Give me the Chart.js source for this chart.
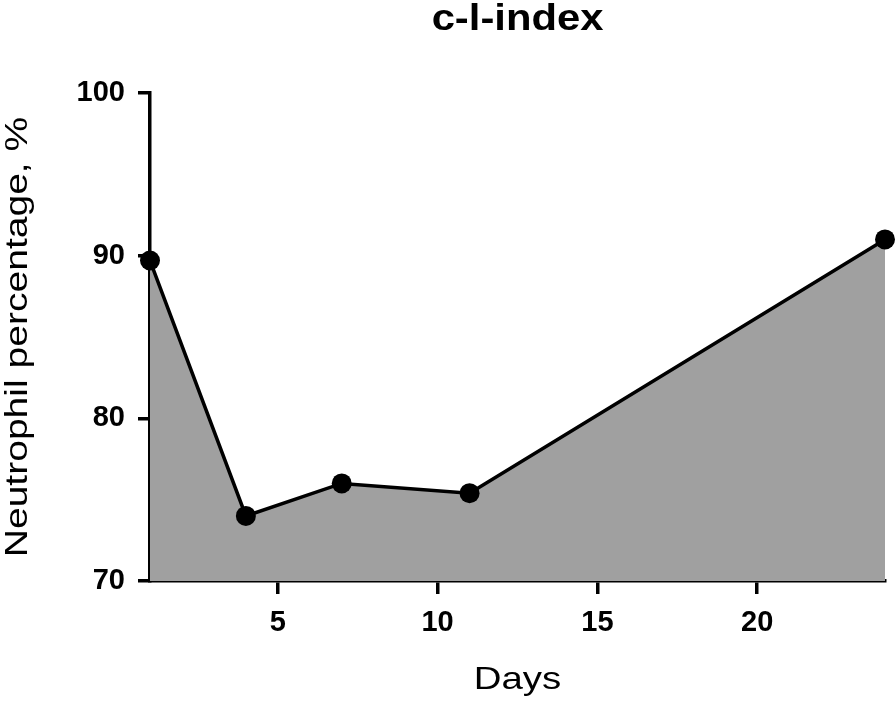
<!DOCTYPE html>
<html>
<head>
<meta charset="utf-8">
<script src="https://cdn.jsdelivr.net/npm/chart.js@4"></script>
<style>
  body { margin: 0; background: #fff; }
</style>
</head>
<body>
<canvas id="chart" width="896" height="701"></canvas>
<script>
const chartTitle = "c-l-index";
const xTitle = "Days";
const yTitle = "Neutrophil percentage, %";

const days = [1, 4, 7, 11, 24];
const neutrophils = [89.7, 74.0, 76.0, 75.4, 91.0];
const xTicks = [5, 10, 15, 20];
const yTicks = [70, 80, 90, 100];

const fontFamily = "'Liberation Sans', Arial, sans-serif";

// the reference text is a little wider than Arial, so stretch it along the line
function drawText(ctx, text, font, x, y, stretch, angle) {
    ctx.save();
    ctx.translate(x, y);
    ctx.rotate(angle);
    ctx.scale(stretch, 1);
    ctx.font = font;
    ctx.fillStyle = "#000";
    ctx.textAlign = "center";
    ctx.textBaseline = "alphabetic";
    ctx.fillText(text, 0, 0);
    ctx.restore();
}

const titles = {
    id: "titles",
    afterDraw(chart) {
        const ctx = chart.ctx;
        const area = chart.chartArea;
        const cx = (area.left + area.right) / 2;
        const cy = (area.top + area.bottom) / 2;
        drawText(ctx, chartTitle, "bold 36px " + fontFamily, cx, 30, 1.16, 0);
        drawText(ctx, xTitle, "32px " + fontFamily, cx, 689, 1.2, 0);
        drawText(ctx, yTitle, "32px " + fontFamily, 26.5, cy, 1.22, -Math.PI / 2);
    }
};

const axisGrid = {
    drawOnChartArea: false,
    drawTicks: true,
    color: "#000",
    lineWidth: 3.5,
    tickLength: 12
};

new Chart(document.getElementById("chart"), {
    type: "line",
    data: {
        datasets: [
            {
                data: days.map((d, i) => ({ x: d, y: neutrophils[i] })),
                borderColor: "#000",
                borderWidth: 3.5,
                backgroundColor: "#a0a0a0",
                fill: "start",
                tension: 0,
                pointRadius: 10,
                pointBackgroundColor: "#000",
                pointBorderWidth: 0,
                clip: false
            }
        ]
    },
    options: {
        responsive: false,
        animation: false,
        layout: { padding: { top: 93, right: 11, bottom: 0, left: 0 } },
        plugins: {
            legend: { display: false },
            title: { display: false },
            tooltip: { enabled: false }
        },
        scales: {
            x: {
                type: "linear",
                min: 1,
                max: 24,
                afterBuildTicks: s => { s.ticks = xTicks.map(v => ({ value: v })); },
                afterFit: s => { s.height = 120; },
                grid: { ...axisGrid, tickLength: 13 },
                border: { display: true, color: "#000", width: 3.5 },
                ticks: {
                    color: "#000",
                    padding: 12,
                    maxRotation: 0,
                    font: { size: 29, weight: "bold", family: fontFamily }
                }
            },
            y: {
                min: 70,
                max: 100,
                afterBuildTicks: s => { s.ticks = yTicks.map(v => ({ value: v })); },
                afterFit: s => { s.width = 150; },
                grid: axisGrid,
                border: { display: true, color: "#000", width: 3.5 },
                ticks: {
                    color: "#000",
                    padding: 13,
                    font: { size: 29, weight: "bold", family: fontFamily }
                }
            }
        }
    },
    plugins: [titles]
});
</script>
</body>
</html>
